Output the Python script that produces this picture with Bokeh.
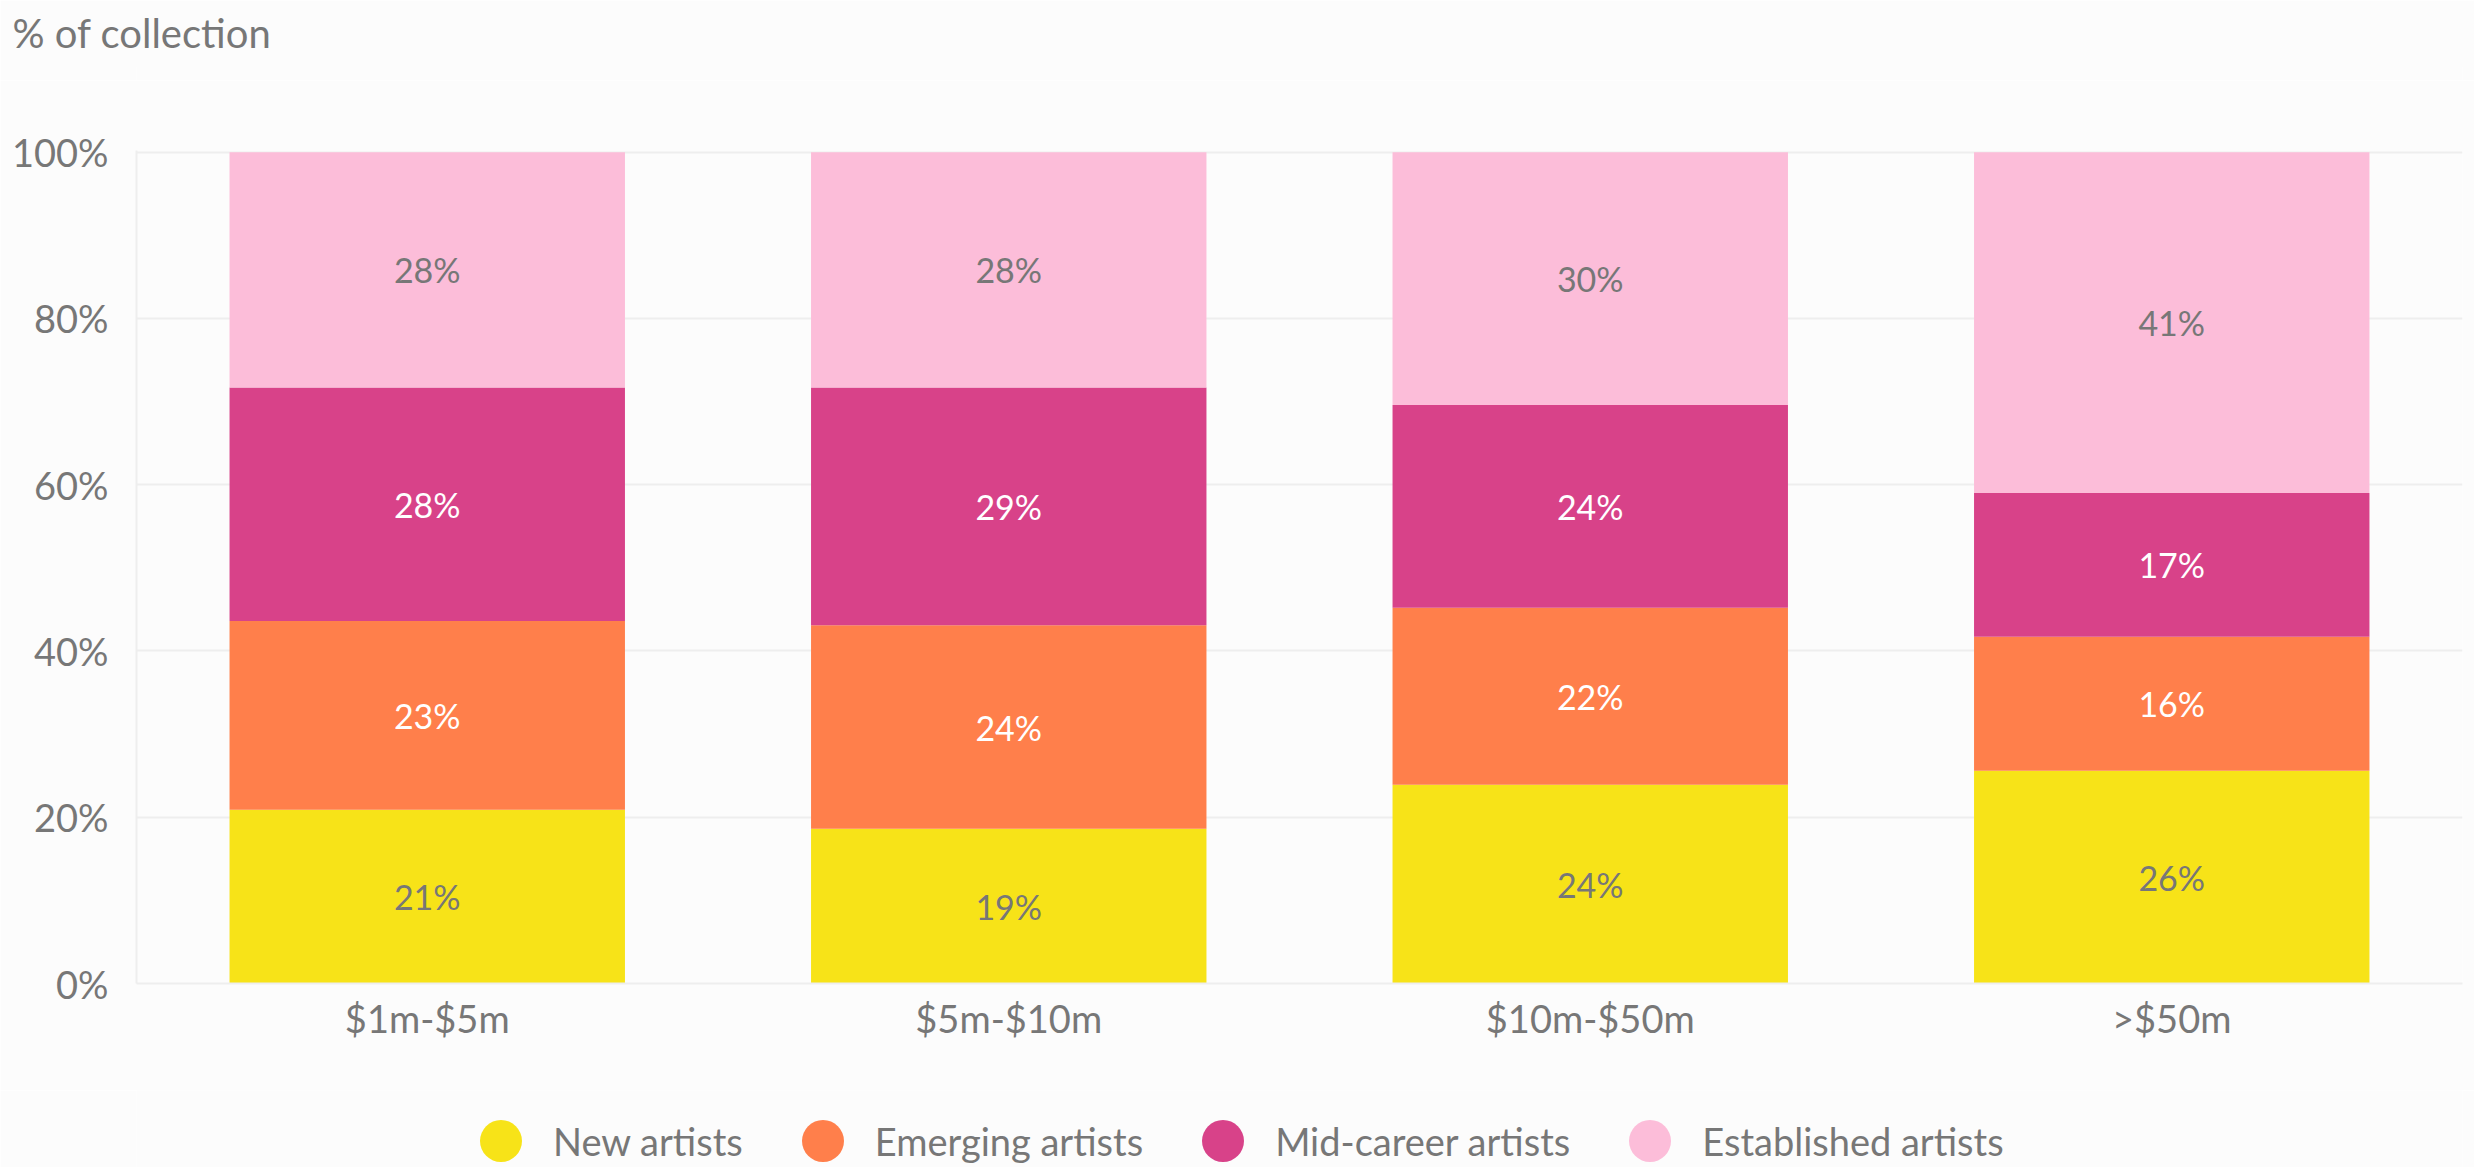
from bokeh.plotting import figure
from bokeh.layouts import column
from bokeh.models import (ColumnDataSource, Legend, LegendItem, FactorRange,
                          CustomJSTickFormatter)
from bokeh.core.properties import value
from bokeh.embed import file_html
from bokeh.resources import INLINE

categories = ["$1m-$5m", "$5m-$10m", "$10m-$50m", ">$50m"]
series = ["New artists", "Emerging artists", "Mid-career artists", "Established artists"]
new_artists = [20.9, 18.6, 23.9, 25.6]
emerging_artists = [22.7, 24.5, 21.3, 16.1]
mid_career_artists = [28.1, 28.6, 24.4, 17.3]
established_artists = [28.3, 28.3, 30.4, 41.0]
labels_new = ["21%", "19%", "24%", "26%"]
labels_emerging = ["23%", "24%", "22%", "16%"]
labels_mid = ["28%", "29%", "24%", "17%"]
labels_established = ["28%", "28%", "30%", "41%"]
colors = ["#F7E318", "#FF7F4B", "#D84289", "#FCBDD9"]
label_colors = ["#777777", "#FFFFFF", "#FFFFFF", "#777777"]
y_ticks = [0, 20, 40, 60, 80, 100]
title_text = "% of collection"

FONT = "Lato"
GRAY = "#777777"
BG = "#FCFCFC"
W = 2474


def blank_fig(h):
    f = figure(width=W, height=h, x_range=(0, 1), y_range=(0, 1), output_backend="svg",
               toolbar_location=None, x_axis_type=None, y_axis_type=None,
               min_border=0, min_border_left=0, min_border_right=0,
               min_border_top=0, min_border_bottom=0,
               background_fill_color=BG, border_fill_color=BG, outline_line_color=None)
    f.xgrid.visible = False
    f.ygrid.visible = False
    return f


# ---- title strip
ft = blank_fig(80)
ft.title.text = title_text
ft.title.align = "left"
ft.title.vertical_align = "top"
ft.title.offset = -124
ft.title.standoff = 16
ft.title.text_font = FONT
ft.title.text_font_size = "40px"
ft.title.text_font_style = "normal"
ft.title.text_color = GRAY

# ---- main chart
values = [new_artists, emerging_artists, mid_career_artists, established_artists]
labels = [labels_new, labels_emerging, labels_mid, labels_established]

p = figure(x_range=FactorRange(*categories, range_padding=0), y_range=(0, 100.2),
           width=W, height=1010, output_backend="svg", toolbar_location=None,
           min_border_left=136, min_border_right=12, min_border_top=70, min_border_bottom=107,
           background_fill_color=BG, border_fill_color=BG, outline_line_color=None)

bottoms = [0.0] * len(categories)
for name, vals, labs, col, lcol in zip(series, values, labels, colors, label_colors):
    tops = [b + v for b, v in zip(bottoms, vals)]
    mids = [(b + t) / 2 for b, t in zip(bottoms, tops)]
    src = ColumnDataSource(dict(x=categories, bottom=bottoms, top=tops, mid=mids, lab=labs))
    p.vbar(x="x", bottom="bottom", top="top", width=0.68, source=src,
           fill_color=col, line_color=None)
    p.text(x="x", y="mid", text="lab", source=src, text_align="center", text_baseline="middle",
           text_color=lcol, text_font=value(FONT), text_font_size="34px")
    bottoms = tops

p.yaxis.ticker = y_ticks
p.yaxis.formatter = CustomJSTickFormatter(code="return tick + '%'")
for ax in (p.xaxis, p.yaxis):
    ax.axis_line_color = "#EEEEEE"
    ax.axis_line_width = 2
    ax.major_tick_line_color = None
    ax.minor_tick_line_color = None
    ax.major_label_text_font = FONT
    ax.major_label_text_font_size = "38px"
    ax.major_label_text_color = GRAY
p.yaxis.major_label_standoff = 22
p.xaxis.major_label_standoff = 5
p.xgrid.grid_line_color = None
p.ygrid.grid_line_color = "#EEEEEE"
p.ygrid.grid_line_width = 2

# ---- legend strip
fl = blank_fig(77)
items = []
for name, col in zip(series, colors):
    r = fl.scatter(x=[-5], y=[-5], marker="circle", size=10, fill_color=col, line_color=None)
    items.append(LegendItem(label=name, renderers=[r]))
legend = Legend(items=items, orientation="horizontal", location=(312, -26),
                glyph_width=105, glyph_height=105, label_standoff=-17, spacing=27,
                padding=0, margin=0, border_line_color=None, background_fill_alpha=0,
                label_text_font=FONT, label_text_font_size="38px", label_text_color=GRAY,
                label_text_baseline="middle")
fl.add_layout(legend, "center")

layout = column(ft, p, fl, spacing=0)
open("out.html", "w").write(file_html(layout, INLINE))
